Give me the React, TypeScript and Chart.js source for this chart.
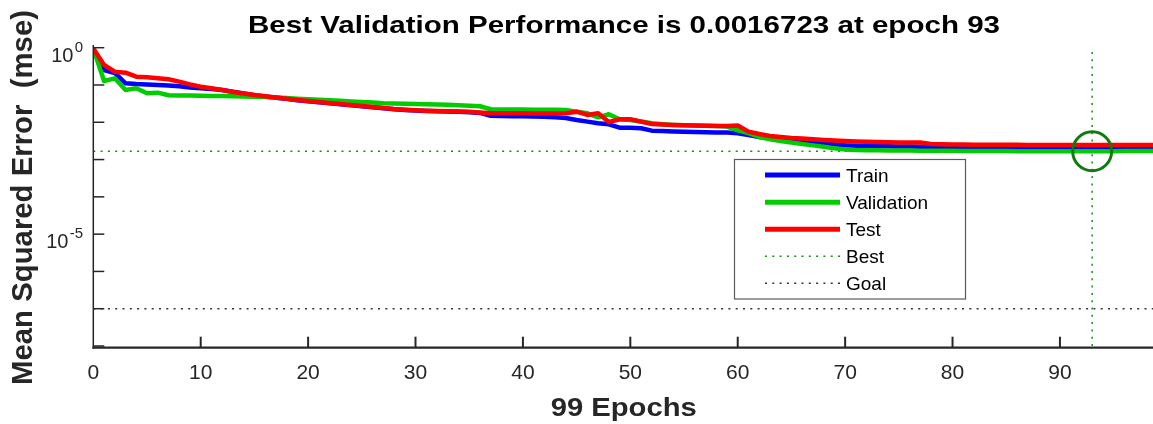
import React, { useEffect, useRef } from 'react';
import { Chart, registerables } from 'chart.js';

Chart.register(...registerables);

// ---------- data ----------
const epochs = [
  0, 1, 2, 3, 4, 5, 6, 7, 8, 9,
  10, 11, 12, 13, 14, 15, 16, 17, 18, 19,
  20, 21, 22, 23, 24, 25, 26, 27, 28, 29,
  30, 31, 32, 33, 34, 35, 36, 37, 38, 39,
  40, 41, 42, 43, 44, 45, 46, 47, 48, 49,
  50, 51, 52, 53, 54, 55, 56, 57, 58, 59,
  60, 61, 62, 63, 64, 65, 66, 67, 68, 69,
  70, 71, 72, 73, 74, 75, 76, 77, 78, 79,
  80, 81, 82, 83, 84, 85, 86, 87, 88, 89,
  90, 91, 92, 93, 94, 95, 96, 97, 98, 99,
];

const trainMse = [
  0.95, 0.252, 0.21, 0.111, 0.106, 0.103, 0.1, 0.097, 0.092, 0.086,
  0.082, 0.078, 0.073, 0.0655, 0.059, 0.0535, 0.0493, 0.0457, 0.0425, 0.0392,
  0.0368, 0.0346, 0.0325, 0.0306, 0.0287, 0.027, 0.0253, 0.0238, 0.0224, 0.0214,
  0.0207, 0.0202, 0.0198, 0.0195, 0.0191, 0.0185, 0.0178, 0.015, 0.0148, 0.0146,
  0.0144, 0.0142, 0.014, 0.0136, 0.013, 0.0115, 0.0104, 0.0094, 0.0088, 0.00716,
  0.00716, 0.0069, 0.00596, 0.00585, 0.0057, 0.0056, 0.0055, 0.0054, 0.0053, 0.0053,
  0.0051, 0.00457, 0.00404, 0.00372, 0.00357, 0.00342, 0.00325, 0.00302, 0.00279, 0.00257,
  0.00242, 0.00236, 0.00232, 0.00229, 0.00227, 0.00225, 0.00223, 0.00222, 0.00218, 0.00216,
  0.00214, 0.00213, 0.00212, 0.00212, 0.00211, 0.00211, 0.0021, 0.0021, 0.0021, 0.00209,
  0.00209, 0.00209, 0.00208, 0.00208, 0.00208, 0.00208, 0.00207, 0.00207, 0.00207, 0.00207,
];

const validationMse = [
  0.95, 0.128, 0.151, 0.0734, 0.0816, 0.0599, 0.0622, 0.053, 0.0523, 0.052,
  0.0515, 0.051, 0.0505, 0.0498, 0.0492, 0.0483, 0.0474, 0.046, 0.0445, 0.043,
  0.0415, 0.04, 0.0388, 0.0375, 0.0362, 0.035, 0.0338, 0.0323, 0.0318, 0.0313,
  0.0308, 0.0303, 0.0298, 0.0293, 0.0288, 0.0279, 0.0269, 0.0223, 0.0221, 0.022,
  0.0219, 0.0218, 0.0217, 0.0216, 0.0214, 0.0192, 0.0174, 0.0136, 0.0164, 0.012,
  0.0115, 0.0105, 0.0094, 0.0088, 0.0085, 0.0083, 0.0082, 0.0081, 0.0079, 0.0077,
  0.0061, 0.0051, 0.00404, 0.0035, 0.00315, 0.00287, 0.00262, 0.0024, 0.0022, 0.00201,
  0.00187, 0.00181, 0.00178, 0.00177, 0.00176, 0.00175, 0.00174, 0.00173, 0.00172, 0.00171,
  0.00171, 0.0017, 0.0017, 0.00169, 0.00169, 0.00169, 0.00168, 0.00168, 0.00168, 0.00168,
  0.00168, 0.00168, 0.00168, 0.0016723, 0.00168, 0.00168, 0.00169, 0.00169, 0.00169, 0.0017,
];

const testMse = [
  0.95, 0.344, 0.2275, 0.214, 0.167, 0.161, 0.151, 0.142, 0.123, 0.104,
  0.09, 0.0816, 0.0734, 0.0649, 0.0592, 0.054, 0.0498, 0.0462, 0.043, 0.0396,
  0.0372, 0.035, 0.0329, 0.031, 0.0291, 0.0274, 0.0257, 0.0242, 0.0227, 0.0218,
  0.021, 0.0205, 0.0201, 0.0199, 0.0195, 0.0192, 0.0183, 0.0174, 0.0174, 0.0174,
  0.0174, 0.0173, 0.0173, 0.0172, 0.0174, 0.0192, 0.0157, 0.0174, 0.0102, 0.012,
  0.012, 0.0104, 0.009, 0.0087, 0.00847, 0.00832, 0.00821, 0.00811, 0.00796, 0.00796,
  0.00821, 0.0056, 0.00486, 0.0043, 0.00404, 0.00379, 0.00368, 0.0035, 0.00335, 0.00325,
  0.00315, 0.00306, 0.003, 0.00296, 0.00293, 0.00289, 0.00287, 0.00285, 0.00262, 0.00257,
  0.00254, 0.00252, 0.0025, 0.0025, 0.00249, 0.00248, 0.00248, 0.00247, 0.00247, 0.00246,
  0.00246, 0.00246, 0.00245, 0.00245, 0.00245, 0.00245, 0.00244, 0.00244, 0.00244, 0.00244,
];

const bestEpoch = 93;
const bestValue = 0.0016723;
const goalValue = 1e-7;
const totalEpochs = 99;

const xTickValues = [0, 10, 20, 30, 40, 50, 60, 70, 80, 90];
const yDecadeTicks = [1, 1e-1, 1e-2, 1e-3, 1e-4, 1e-5, 1e-6, 1e-7, 1e-8];
const yLabelValues = [1, 1e-5];
const yLabelExponents = ['0', '-5'];

const titleText = 'Best Validation Performance is 0.0016723 at epoch 93';
const xTitleText = '99 Epochs';
const yTitleText = 'Mean Squared Error  (mse)';
const legendLabels = ['Train', 'Validation', 'Test', 'Best', 'Goal'];

// ---------- styles ----------
const FONT = '"Liberation Sans", Arial, Helvetica, sans-serif';
const AXIS = '#262626';
const BLUE = '#0000ff';
const GREEN = '#00cc00';
const RED = '#ff0000';
const BEST_GREEN = '#1a8a1a';
const CIRCLE_GREEN = '#107a10';
const DOT = [2, 5.3];

function drawStretched(
  ctx: CanvasRenderingContext2D,
  text: string,
  x: number,
  y: number,
  font: string,
  targetWidth: number,
  rotate = 0
) {
  ctx.save();
  ctx.font = font;
  const w = ctx.measureText(text).width;
  const sx = targetWidth / w;
  ctx.translate(x, y);
  if (rotate) ctx.rotate(rotate);
  ctx.scale(sx, 1);
  ctx.textAlign = 'center';
  ctx.textBaseline = 'alphabetic';
  ctx.fillText(text, 0, 0);
  ctx.restore();
}

const matlabPlugin = {
  id: 'matlabDecor',
  afterDraw(chart: any) {
    const { ctx, scales } = chart;
    const xs = scales.x;
    const ys = scales.y;
    const left = xs.getPixelForValue(0);
    ctx.save();

    // axes lines
    ctx.strokeStyle = AXIS;
    ctx.lineWidth = 1.5;
    ctx.beginPath();
    ctx.moveTo(left, 45);
    ctx.lineTo(left, 348.7);
    ctx.stroke();
    ctx.lineWidth = 2.2;
    ctx.beginPath();
    ctx.moveTo(left - 0.8, 347.7);
    ctx.lineTo(1160, 347.7);
    ctx.stroke();

    // y ticks (inside)
    ctx.lineWidth = 1.5;
    yDecadeTicks.forEach((v) => {
      const py = ys.getPixelForValue(v);
      ctx.beginPath();
      ctx.moveTo(left, py);
      ctx.lineTo(left + 11, py);
      ctx.stroke();
    });
    // x ticks (inside)
    ctx.lineWidth = 2;
    xTickValues.forEach((v) => {
      if (v === 0) return;
      const px = xs.getPixelForValue(v);
      ctx.beginPath();
      ctx.moveTo(px, 336.7);
      ctx.lineTo(px, 347);
      ctx.stroke();
    });

    // x tick labels
    ctx.fillStyle = AXIS;
    ctx.font = `21px ${FONT}`;
    ctx.textAlign = 'center';
    ctx.textBaseline = 'alphabetic';
    xTickValues.forEach((v) => {
      const px = xs.getPixelForValue(v);
      ctx.fillText(String(v), px, 378.7);
    });

    // y tick labels with superscript
    yLabelValues.forEach((v, i) => {
      const py = ys.getPixelForValue(v);
      const exp = yLabelExponents[i];
      const rightEdge = 83;
      ctx.font = `15px ${FONT}`;
      const ew = ctx.measureText(exp).width;
      ctx.textAlign = 'right';
      ctx.fillText(exp, rightEdge, py + 4);
      ctx.font = `20px ${FONT}`;
      ctx.fillText('10', rightEdge - ew - 1.2, py + 14);
    });

    // title
    ctx.fillStyle = '#000';
    drawStretched(ctx, titleText, 624, 33.3, `bold 24px ${FONT}`, 752);
    // x title
    ctx.fillStyle = AXIS;
    drawStretched(ctx, xTitleText, 623.7, 416, `bold 26px ${FONT}`, 146);
    // y title
    drawStretched(ctx, yTitleText, 32, 197.5, `bold 30px ${FONT}`, 375, -Math.PI / 2);

    // legend
    const bx = 734.5, by = 159.5, bw = 231, bh = 139.5;
    ctx.fillStyle = '#fff';
    ctx.fillRect(bx, by, bw, bh);
    ctx.strokeStyle = '#5a5a5a';
    ctx.lineWidth = 1.2;
    ctx.strokeRect(bx, by, bw, bh);
    const rows = [175, 202.2, 229.3, 256.3, 283.3];
    const styles = [
      { color: BLUE, width: 5, dash: [] as number[] },
      { color: GREEN, width: 5, dash: [] as number[] },
      { color: RED, width: 5, dash: [] as number[] },
      { color: BEST_GREEN, width: 1.5, dash: DOT },
      { color: '#333', width: 1.5, dash: DOT },
    ];
    legendLabels.forEach((label, i) => {
      const ry = rows[i];
      const st = styles[i];
      ctx.save();
      ctx.strokeStyle = st.color;
      ctx.lineWidth = st.width;
      ctx.setLineDash(st.dash);
      ctx.beginPath();
      ctx.moveTo(765, ry);
      ctx.lineTo(840, ry);
      ctx.stroke();
      ctx.restore();
      ctx.fillStyle = '#000';
      ctx.font = `19px ${FONT}`;
      ctx.textAlign = 'left';
      ctx.textBaseline = 'alphabetic';
      ctx.fillText(label, 846, ry + 6.8);
    });

    ctx.restore();
  },
};

const toPoints = (vals: number[]) => epochs.map((e, i) => ({ x: e, y: vals[i] }));

export default function App() {
  const ref = useRef<HTMLCanvasElement>(null);
  useEffect(() => {
    const canvas = ref.current;
    if (!canvas) return;
    const seriesStyle = {
      borderWidth: 4.5,
      pointRadius: 0,
      borderJoinStyle: 'round' as const,
      borderCapStyle: 'round' as const,
      tension: 0,
      fill: false,
    };
    const dotted = {
      borderWidth: 1.5,
      pointRadius: 0,
      borderDash: DOT,
      fill: false,
    };
    const chart = new Chart(canvas, {
      type: 'line',
      data: {
        datasets: [
          { label: 'Train', data: toPoints(trainMse), borderColor: BLUE, order: 3, ...seriesStyle },
          { label: 'Validation', data: toPoints(validationMse), borderColor: GREEN, order: 2, ...seriesStyle },
          { label: 'Test', data: toPoints(testMse), borderColor: RED, order: 1, ...seriesStyle },
          {
            label: 'Best',
            data: [{ x: 0, y: bestValue }, { x: totalEpochs, y: bestValue }],
            borderColor: BEST_GREEN,
            order: 5,
            ...dotted,
          },
          {
            label: 'Best epoch',
            data: [{ x: bestEpoch, y: 1e-8 }, { x: bestEpoch, y: 1 }],
            borderColor: BEST_GREEN,
            order: 6,
            ...dotted,
          },
          {
            label: 'Goal',
            data: [{ x: 0, y: goalValue }, { x: totalEpochs, y: goalValue }],
            borderColor: '#333333',
            order: 7,
            ...dotted,
          },
          {
            label: 'Best point',
            data: [{ x: bestEpoch, y: bestValue }],
            showLine: false,
            pointRadius: 19.5,
            pointHoverRadius: 19.5,
            pointBorderWidth: 3,
            pointBorderColor: CIRCLE_GREEN,
            pointBackgroundColor: 'rgba(0,0,0,0)',
            borderColor: CIRCLE_GREEN,
            order: 0,
          },
        ],
      },
      options: {
        responsive: false,
        devicePixelRatio: 1,
        animation: false,
        events: [],
        layout: { autoPadding: false, padding: { left: 93.3, top: 47.7, right: 1.4, bottom: 78 } },
        scales: {
          x: { type: 'linear', min: 0, max: totalEpochs, display: false },
          y: { type: 'logarithmic', min: 1e-8, max: 1, display: false },
        },
        plugins: {
          legend: { display: false },
          tooltip: { enabled: false },
          title: { display: false },
        },
      },
      plugins: [matlabPlugin],
    } as any);
    return () => chart.destroy();
  }, []);

  return (
    <div style={{ position: 'fixed', left: 0, top: 0, width: 1158, height: 424, background: '#fff' }}>
      <canvas ref={ref} width={1158} height={424} style={{ display: 'block', width: 1158, height: 424 }} />
    </div>
  );
}
